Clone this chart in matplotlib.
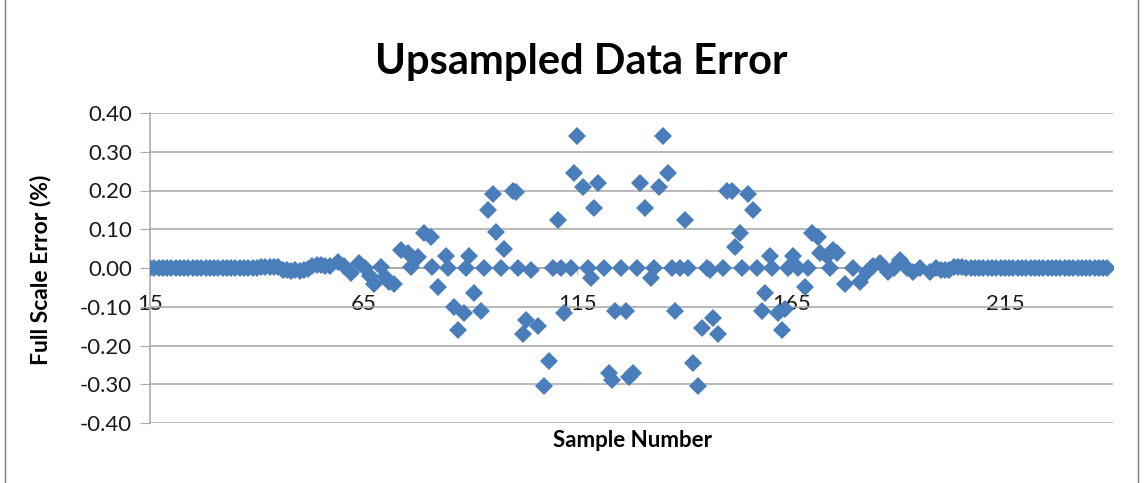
'''
Upsampled data error - scatter chart (Excel style)
'''
import matplotlib
matplotlib.use('Agg')
import matplotlib.pyplot as plt
from matplotlib.lines import Line2D

# ---- data ----
# left tail: sample numbers 15..57, nearly flat
left_x = list(range(15, 58))
left_y = [0.0] * 26 + \
         [0.002, 0.002, 0.002, 0.002, 0.002,
          -0.004, -0.006, -0.007, -0.006, -0.007, -0.006, -0.003,
          0.005, 0.008, 0.008, 0.005, 0.004]

# centre region, where the error swings
mid_x = [58.9, 60.5, 62.1, 63.8, 65.2, 66.5, 67.5, 69.1, 69.9, 71.0,
         72.2, 73.7, 75.4, 76.1, 77.7, 79.1, 80.7, 80.9, 82.4, 84.2,
         84.7, 86.1, 87.0, 88.4, 88.9, 89.6, 90.8, 92.4, 93.1, 94.1,
         95.2, 95.9, 97.1, 97.8, 99.9, 100.6, 101.1, 102.2, 102.9, 104.1,
         105.7, 107.1, 108.3, 109.4, 110.4, 111.1, 111.8, 113.4, 114.1, 115.0,
         116.2, 117.4, 118.1, 118.8, 119.9, 121.1, 122.3, 123.2, 123.9, 125.1,
         126.3, 127.0, 128.1, 129.0, 129.7, 130.9, 132.1, 132.8, 134.0, 135.1,
         136.1, 137.2, 137.9, 139.1, 140.2, 140.9, 142.1, 143.2, 144.2, 145.4,
         146.1, 146.8, 147.9, 149.1, 150.0, 151.2, 151.9, 153.1, 153.6, 155.0,
         156.1, 157.0, 158.2, 158.9, 160.1, 160.6, 161.9, 162.9, 163.6, 164.3,
         165.4, 166.6, 168.2, 168.9, 169.8, 171.2, 171.7, 173.4, 174.0, 174.8,
         175.8, 177.6, 179.5, 181.1, 182.7, 184.2, 185.8, 187.7, 189.0, 190.4,
         192.1, 193.5, 195.1, 197.4, 199.0]
mid_y = [0.016, 0.005, -0.013, 0.013, 0.0, -0.020, -0.040, 0.003, -0.023, -0.035,
         -0.040, 0.046, 0.039, 0.003, 0.028, 0.090, 0.080, 0.003, -0.050, 0.030,
         0.0, -0.100, -0.160, -0.115, 0.0, 0.030, -0.065, -0.110, 0.0, 0.150,
         0.190, 0.093, 0.0, 0.050, 0.200, 0.195, 0.0, -0.170, -0.135, -0.005,
         -0.150, -0.305, -0.240, 0.0, 0.125, 0.0, -0.115, 0.0, 0.245, 0.340,
         0.210, 0.0, -0.025, 0.155, 0.220, 0.0, -0.270, -0.290, -0.110, 0.0,
         -0.110, -0.280, -0.270, 0.0, 0.220, 0.155, -0.025, 0.0, 0.210, 0.340,
         0.245, 0.0, -0.110, 0.0, 0.125, 0.0, -0.245, -0.305, -0.155, 0.0,
         -0.005, -0.130, -0.170, 0.0, 0.200, 0.200, 0.055, 0.090, 0.0, 0.190,
         0.150, 0.0, -0.110, -0.065, 0.030, 0.0, -0.115, -0.160, -0.105, 0.0,
         0.030, 0.0, -0.050, 0.0, 0.090, 0.080, 0.040, 0.030, 0.0, 0.046,
         0.040, -0.040, 0.0, -0.035, -0.010, 0.005, 0.013, -0.010, 0.0, 0.020,
         0.0, -0.010, 0.0, -0.010, 0.0]

# right tail: sample numbers 200..239, nearly flat
right_x = list(range(200, 240))
right_y = [-0.005, -0.006, -0.004, 0.002, 0.003, 0.002, 0.001] + [0.0] * 33

y_ticks = [-0.4, -0.3, -0.2, -0.1, 0.0, 0.1, 0.2, 0.3, 0.4]
x_ticks = [15, 65, 115, 165, 215]

xs = left_x + mid_x + right_x
ys = left_y + mid_y + right_y

# ---- figure ----
plt.rcParams['font.family'] = ['Lato', 'DejaVu Sans']
fig = plt.figure(figsize=(11.45, 4.83), dpi=100)
ax = fig.add_axes([150 / 1145, 60 / 483, 963 / 1145, 310 / 483])

ax.plot(xs, ys, linestyle='none', marker='D', markersize=9.6,
        color='#4a7ebb', markeredgewidth=0, zorder=3)

ax.set_xlim(15, 240.3)
ax.set_ylim(-0.4, 0.4)
ax.set_yticks(y_ticks)
ax.set_yticklabels(['%.2f' % v for v in y_ticks])
ax.set_xticks(x_ticks)

ax.grid(True, axis='y', color='#a6a6a6', linewidth=1.1)
ax.set_axisbelow(True)

for side in ['top', 'right']:
    ax.spines[side].set_visible(False)
ax.spines['left'].set_color('#a6a6a6')
ax.spines['left'].set_linewidth(1.1)
ax.spines['bottom'].set_position(('data', 0))
ax.spines['bottom'].set_color('#a6a6a6')
ax.spines['bottom'].set_linewidth(1.1)

ax.tick_params(axis='y', direction='out', length=7, color='#a6a6a6',
               labelsize=16, pad=6, labelcolor='#1a1a1a')
ax.tick_params(axis='x', direction='out', length=4, color='#a6a6a6',
               labelsize=16, pad=15, labelcolor='#1a1a1a')

fig.text(0.508, 0.847, 'Upsampled Data Error', ha='center', va='baseline',
         fontsize=30, fontweight='bold')
fig.text(0.552, 0.074, 'Sample Number', ha='center', va='baseline',
         fontsize=16, fontweight='bold')
fig.text(0.035, 0.441, 'Full Scale Error (%)', ha='center', va='center',
         rotation=90, fontsize=16.5, fontweight='bold')

# chart border (left and right edges)
for xe in [5 / 1145, 1138 / 1145]:
    fig.add_artist(Line2D([xe, xe], [0, 1], transform=fig.transFigure,
                          color='#7f7f7f', linewidth=1))

plt.savefig('out.png', dpi=100)
